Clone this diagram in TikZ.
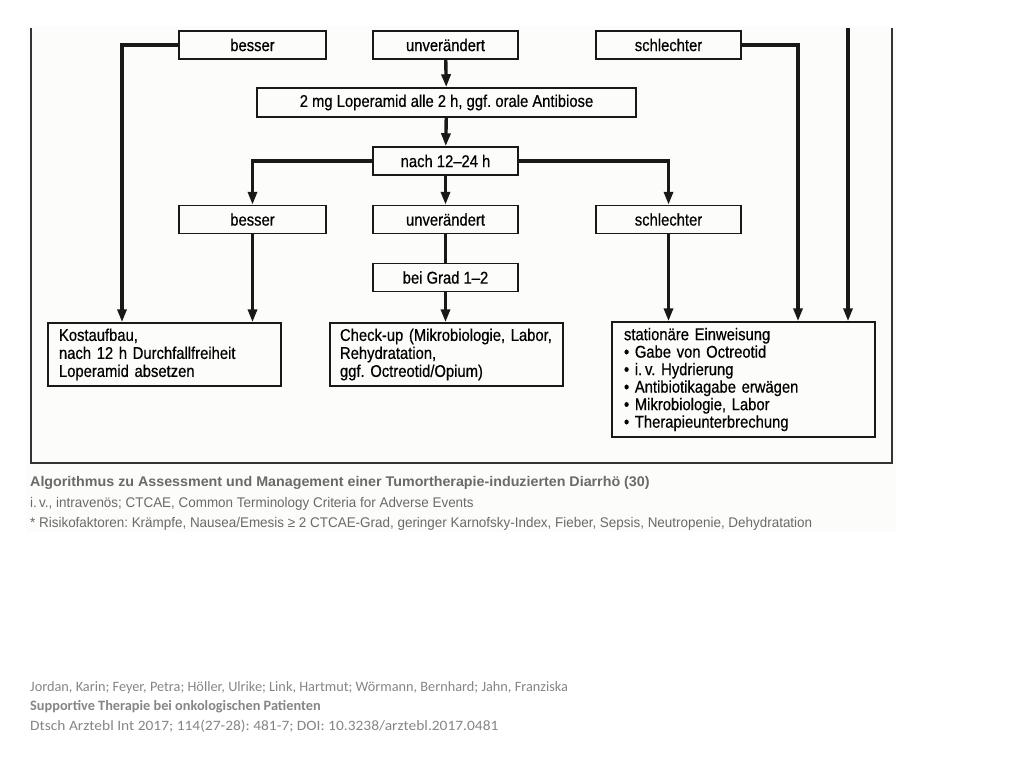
\documentclass[tikz,border=0pt]{standalone}
\usepackage{fontspec}
\usetikzlibrary{arrows.meta}
\newfontfamily\boxfont{Liberation Sans}[FakeStretch=0.87,FakeBold=0.5]
\newfontfamily\capfont{Liberation Sans}[FakeStretch=0.96]
\newfontfamily\capboldfont{Liberation Sans}[FakeStretch=1.02]
\newfontfamily\citefont{Carlito}
\newfontfamily\citewidefont{Carlito}[FakeStretch=1.08]
\definecolor{panel}{HTML}{FCFCFA}
\definecolor{framegray}{HTML}{333333}
\definecolor{capgray}{HTML}{6A6A6A}
\definecolor{citegray}{HTML}{858585}
\tikzset{
  flowbox/.style={draw=black!90, line width=1.5pt, minimum height=28pt, inner sep=0pt,
    font=\boxfont\fontsize{17}{18}\selectfont},
  textbox/.style={flowbox, align=left, inner xsep=0pt},
  link/.style={line width=3.4pt, black!90},
  conn/.style={link, -{Triangle[length=13pt,width=9pt]}},
  captext/.style={anchor=base west, inner sep=0pt, text=capgray,
    font=\capfont\fontsize{14}{16}\selectfont},
  citetext/.style={anchor=base west, inner sep=0pt, text=citegray,
    font=\citefont\fontsize{14.3}{16}\selectfont},
}

\begin{document}
\frenchspacing
\begin{tikzpicture}[x=1pt,y=-1pt]
\useasboundingbox (0,0) rectangle (1024,768);
\fill[panel] (26,26) rectangle (896,532);
\draw[framegray, line width=1.5pt] (31,28) -- (31,463) -- (892,463) -- (892,28);

% boxes
\node[flowbox, minimum width=147pt] (besserA) at (252.5,45) {besser};
\node[flowbox, minimum width=145pt] (unverA) at (445.5,45) {unverändert};
\node[flowbox, minimum width=145pt] (schlechterA) at (668.5,45) {schlechter};
\node[flowbox, minimum width=379pt, minimum height=29pt] (lopera) at (446.5,102.5) {2 mg Loperamid alle 2 h, ggf. orale Antibiose};
\node[flowbox, minimum width=145pt] (nach) at (445.5,161) {nach 12–24 h};
\node[flowbox, minimum width=147pt] (besserB) at (252.5,219.5) {besser};
\node[flowbox, minimum width=145pt] (unverB) at (445.5,219.5) {unverändert};
\node[flowbox, minimum width=145pt] (schlechterB) at (668.5,219.5) {schlechter};
\node[flowbox, minimum width=145pt] (grad) at (445.5,277.5) {bei Grad 1–2};
\node[textbox, minimum height=63pt, inner xsep=11pt, text width=211pt] (kost) at (164.5,354.5)
  {Kostaufbau,\\nach 12 h Durchfallfreiheit\\Loperamid absetzen};
\node[textbox, minimum height=63pt, inner xsep=10pt, text width=213pt] (check) at (446.5,354.5)
  {Check-up (Mikrobiologie, Labor,\\Rehydratation,\\ggf. Octreotid/Opium)};
\node[textbox, minimum height=115pt, inner xsep=12pt, text width=239pt,
  font=\boxfont\fontsize{17}{17.5}\selectfont] (station) at (743.5,379.5)
  {stationäre Einweisung\\• Gabe von Octreotid\\• i.\,v. Hydrierung\\• Antibiotikagabe erwägen\\• Mikrobiologie, Labor\\• Therapieunterbrechung};
\coordinate (fromtop) at (848,28);

% connectors
\draw[conn] (besserA.west) -| ([xshift=-42.5pt]kost.north);
\draw[conn] (unverA) -- (lopera);
\draw[conn] (lopera) -- (nach);
\draw[conn] (nach.west) -| (besserB.north);
\draw[conn] (nach) -- (unverB);
\draw[conn] (nach.east) -| (schlechterB.north);
\draw[conn] (besserB.south) -- (besserB.south |- kost.north);
\draw[link] (unverB) -- (grad);
\draw[conn] (grad.south) -- (grad.south |- check.north);
\draw[conn] (schlechterB.south) -- (schlechterB.south |- station.north);
\draw[conn] (schlechterA.east) -| ([xshift=54.5pt]station.north);
\draw[conn] (fromtop) -- (fromtop |- station.north);

% caption
\node[captext, font=\capboldfont\bfseries\fontsize{14}{16}\selectfont] (capA) at (30,486)
  {Algorithmus zu Assessment und Management einer Tumortherapie-induzierten Diarrhö (30)};
\node[captext] (capB) at (30,507) {i.\,v., intravenös; CTCAE, Common Terminology Criteria for Adverse Events};
\node[captext] (capC) at (30,527) {* Risikofaktoren: Krämpfe, Nausea/Emesis ≥ 2 CTCAE-Grad, geringer Karnofsky-Index, Fieber, Sepsis, Neutropenie, Dehydratation};

% source
\node[citetext] (citeA) at (30,691) {Jordan, Karin; Feyer, Petra; Höller, Ulrike; Link, Hartmut; Wörmann, Bernhard; Jahn, Franziska};
\node[citetext, font=\citefont\bfseries\fontsize{14.3}{16}\selectfont] (citeB) at (30,710) {Supportive Therapie bei onkologischen Patienten};
\node[citetext, font=\citewidefont\fontsize{14.3}{16}\selectfont] (citeC) at (30,730) {Dtsch Arztebl Int 2017; 114(27-28): 481-7; DOI: 10.3238/arztebl.2017.0481};
\end{tikzpicture}
\end{document}
